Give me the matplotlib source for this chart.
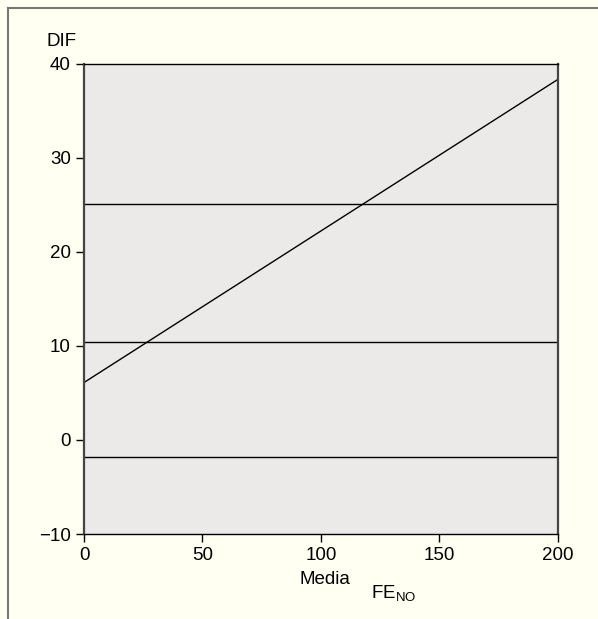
import numpy as np
import matplotlib
matplotlib.use("Agg")
import matplotlib.pyplot as plt
from matplotlib.lines import Line2D

plt.rcParams['font.family'] = ['Liberation Sans', 'DejaVu Sans']
plt.rcParams['mathtext.fontset'] = 'custom'
plt.rcParams['mathtext.rm'] = 'Liberation Sans'
plt.rcParams['mathtext.default'] = 'regular'

# data
x_range = [0, 200]
trend = [6.1, 38.3]          # regression of the difference on the mean
limits = [25.05, 10.4, -1.85]  # upper limit, mean difference, lower limit
x_ticks = [0, 50, 100, 150, 200]
y_ticks = [-10, 0, 10, 20, 30, 40]

fs = 13.5
bg = '#fffff2'
fig = plt.figure(figsize=(5.98, 6.19), dpi=100, facecolor=bg)
ax = fig.add_axes([0.1405, 0.1373, 0.7921, 0.7601])
ax.set_facecolor('#ebeae8')

ax.plot(x_range, trend, color='black', lw=1.0, solid_capstyle='butt')
for v in limits:
    ax.axhline(v, color='black', lw=1.0)

ax.set_xlim(0, 200)
ax.set_ylim(-10, 40)
ax.set_xticks(x_ticks)
ax.set_yticks(y_ticks)
ax.set_yticklabels(['\u221210' if t < 0 else str(t) for t in y_ticks])
ax.tick_params(direction='out', length=5.5, width=1.0, color='black',
               labelsize=fs, pad=4)

for s in ['left', 'right']:
    ax.spines[s].set_color('#444444')
    ax.spines[s].set_linewidth(1.6)
for s in ['top', 'bottom']:
    ax.spines[s].set_color('black')
    ax.spines[s].set_linewidth(1.0)

fig.text(61.7 / 598, 1 - 41.7 / 619, 'DIF', fontsize=fs, ha='center', va='center')
fig.text(325 / 598, 1 - 580 / 619, 'Media', fontsize=fs, ha='center', va='center')
fig.text(371 / 598, 1 - 593 / 619, r'FE$_{NO}$', fontsize=fs, ha='left', va='center')

# outer frame: top and left only
fig.add_artist(Line2D([7.5 / 598, 1], [1 - 7.5 / 619, 1 - 7.5 / 619],
                      transform=fig.transFigure, color='#777777', lw=1.5))
fig.add_artist(Line2D([7.5 / 598, 7.5 / 598], [0, 1 - 7.5 / 619],
                      transform=fig.transFigure, color='#777777', lw=1.5))

fig.savefig('out.png', dpi=100, facecolor=bg)
